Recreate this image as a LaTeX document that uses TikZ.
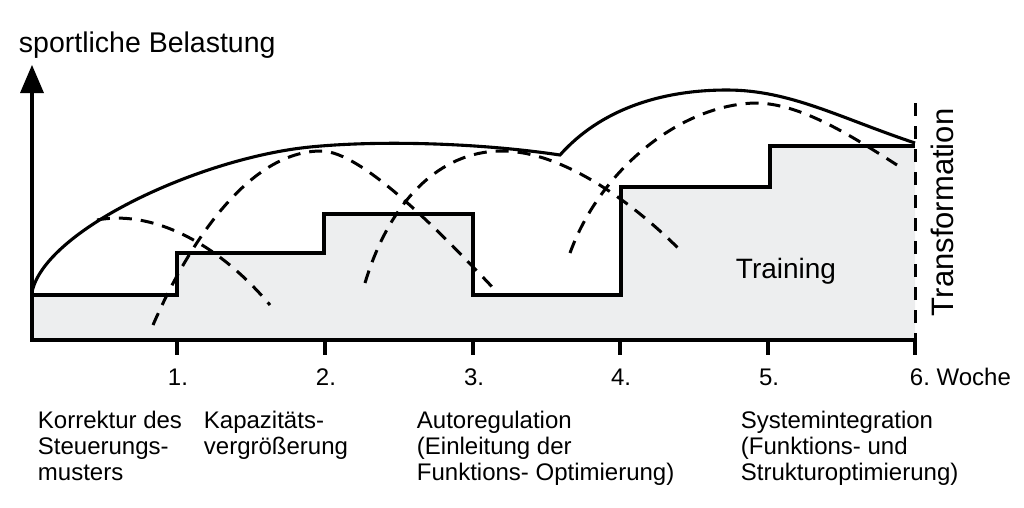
\documentclass[tikz,border=0pt]{standalone}
\usepackage{fontspec}
\setmainfont{Liberation Sans}
\usepackage{xcolor}
\definecolor{trainingfill}{RGB}{237,238,239}

\begin{document}
\frenchspacing
\begin{tikzpicture}[x=1pt,y=1pt,yscale=-1,xscale=1,
    axisline/.style={line width=3.1pt},
    kurve/.style={line width=3.1pt},
    teilkurve/.style={line width=3pt,dash pattern=on 13pt off 9pt},
    lbl/.style={inner sep=0.75pt,align=left,font=\fontsize{24}{26}\selectfont}]
        \useasboundingbox (0,0) rectangle (1024,507);

        %Shape: Polygon [training area]
        \fill[trainingfill] (32,340) -- (32,295) -- (177,295) -- (177,253) -- (324,253) -- (324,214) -- (473,214) -- (473,295) -- (621,295) -- (621,187) -- (770,187) -- (770,146) -- (915,146) -- (915,340) -- cycle ;
        %Shape: Steps [training]
        \draw[kurve] (32,295) -- (177,295) -- (177,253) -- (324,253) -- (324,214) -- (473,214) -- (473,295) -- (621,295) -- (621,187) -- (770,187) -- (770,146) -- (915,146) ;

        %Shape: Axes
        \draw[axisline] (32,90) -- (32,340) -- (915,340) ;
        %Shape: Triangle [arrow head]
        \fill (32,65) -- (44,93) -- (20,93) -- cycle ;
        %Shape: Ticks
        \draw[axisline] (177,340) -- (177,355) ;
        \draw[axisline] (325,340) -- (325,355) ;
        \draw[axisline] (473,340) -- (473,355) ;
        \draw[axisline] (620,340) -- (620,355) ;
        \draw[axisline] (768,340) -- (768,355) ;
        \draw[axisline] (915,340) -- (915,355) ;
        %Shape: Line [transformation]
        \draw[teilkurve,dash pattern=on 13pt off 10pt] (915,103) -- (915,340) ;

        %Shape: Curve [sportliche Belastung]
        \draw[kurve] (32,292) .. controls (45,230) and (200,158) .. (310,147) .. controls (380,140) and (480,143) .. (560,155) .. controls (600,110) and (660,90) .. (727,90) .. controls (790,90) and (840,118) .. (915,143) ;
        %Shape: Curve [phase 1]
        \draw[teilkurve] (97,220) .. controls (150,210) and (215,240) .. (270,305) ;
        %Shape: Curve [phase 2]
        \draw[teilkurve] (153,325) .. controls (190,240) and (250,152) .. (320,151) .. controls (355,150) and (420,210) .. (495,290) ;
        %Shape: Curve [phase 3]
        \draw[teilkurve] (365,283) .. controls (390,200) and (440,152) .. (500,151) .. controls (560,150) and (630,200) .. (680,250) ;
        %Shape: Curve [phase 4]
        \draw[teilkurve] (570,253) .. controls (600,170) and (680,105) .. (755,103) .. controls (800,103) and (850,135) .. (897,165) ;

        % Text Node
        \draw (18,52) node [anchor=base west][inner sep=0.75pt] (ylabel) {\fontsize{28.5}{30}\selectfont sportliche Belastung};
        % Text Node
        \draw (178,385) node [anchor=base][lbl] (w1) {1.};
        % Text Node
        \draw (326,385) node [anchor=base][lbl] (w2) {2.};
        % Text Node
        \draw (474,385) node [anchor=base][lbl] (w3) {3.};
        % Text Node
        \draw (621,385) node [anchor=base][lbl] (w4) {4.};
        % Text Node
        \draw (769,385) node [anchor=base][lbl] (w5) {5.};
        % Text Node
        \draw (909,385) node [anchor=base west][lbl] (w6) {6. Woche};
        % Text Node
        \draw (37,410) node [anchor=north west][lbl] (korrektur) {Korrektur des\\Steuerungs-\\musters};
        % Text Node
        \draw (203,410) node [anchor=north west][lbl] (kapazitaet) {Kapazitäts-\\vergrößerung};
        % Text Node
        \draw (416,410) node [anchor=north west][lbl] (autoreg) {Autoregulation\\(Einleitung der\\Funktions- Optimierung)};
        % Text Node
        \draw (740,410) node [anchor=north west][lbl] (systemint) {Systemintegration\\(Funktions- und\\Strukturoptimierung)};
        % Text Node
        \draw (735,278) node [anchor=base west][inner sep=0.75pt] (training) {\fontsize{28}{30}\selectfont Training};
        % Text Node
        \draw (953,317) node [anchor=base west][inner sep=0.75pt,rotate=90] (transf) {\fontsize{31}{33}\selectfont Transformation};

\end{tikzpicture}
\end{document}
